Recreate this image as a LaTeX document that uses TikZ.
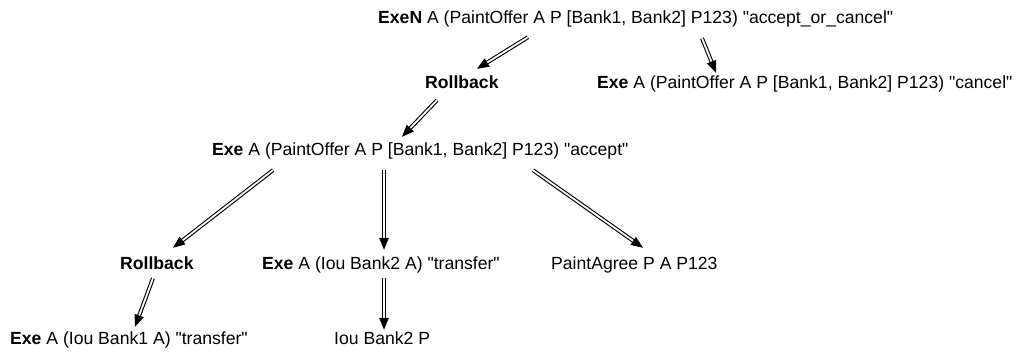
\documentclass[tikz,border=0pt]{standalone}
\usepackage{fontspec}
\setmainfont{Liberation Sans}
\usepackage{tikz}
\usetikzlibrary{arrows.meta}
\newcommand{\kw}[1]{\textbf{#1}}
\newcommand{\qt}[1]{\textquotedbl#1\textquotedbl}

\begin{document}
\begin{tikzpicture}[
  x=1bp, y=1bp,
  font=\fontsize{17.6bp}{21bp}\selectfont,
  line cap=round, line join=round,
  lbl/.style={anchor=base west, inner sep=0pt, text height=13bp, text depth=4bp},
  dbl/.style={double, double distance=1.8bp, line width=1.1bp, line cap=butt,
              -{Triangle[length=12bp, width=9.5bp]}},
]
\useasboundingbox (0,0) rectangle (1016,356);

% ----- rows -----
\node[lbl] (exen)  at (378,332.5) {\kw{ExeN} A (PaintOffer A P [Bank1, Bank2] P123) \qt{accept\_or\_cancel}};
\node[lbl] (rb1)   at (425,267.5) {\kw{Rollback}};
\node[lbl] (cnl)   at (597,267.5) {\kw{Exe} A (PaintOffer A P [Bank1, Bank2] P123) \qt{cancel}};
\node[lbl] (acc)   at (212,201)   {\kw{Exe} A (PaintOffer A P [Bank1, Bank2] P123) \qt{accept}};
\node[lbl] (rb2)   at (120,87)    {\kw{Rollback}};
\node[lbl] (iou2)  at (262,87)    {\kw{Exe} A (Iou Bank2 A) \qt{transfer}};
\node[lbl] (agree) at (551,87)    {PaintAgree P A P123};
\node[lbl] (iou1)  at (10,12)     {\kw{Exe} A (Iou Bank1 A) \qt{transfer}};
\node[lbl] (iou2p) at (334,12)    {Iou Bank2 P};

% ----- edges -----
\draw[dbl] ([shift={(150,-9.5)}]exen.south west) -- ([shift={(52,6.5)}]rb1.north west);
\draw[dbl] ([shift={(324,-10.5)}]exen.south west) -- ([shift={(119,2.5)}]cnl.north west);
\draw[dbl] ([shift={(12,-7.5)}]rb1.south west) -- ([shift={(190,5)}]acc.north west);
\draw[dbl] ([shift={(61,-11)}]acc.south west) -- ([shift={(53,8)}]rb2.north west);
\draw[dbl] ([shift={(172,-11)}]acc.south west) -- ([shift={(122,6)}]iou2.north west);
\draw[dbl] ([shift={(321,-11)}]acc.south west) -- ([shift={(92,8)}]agree.north west);
\draw[dbl] ([shift={(33,-5)}]rb2.south west) -- ([shift={(125,4)}]iou1.north west);
\draw[dbl] ([shift={(122,-5)}]iou2.south west) -- ([shift={(50,1)}]iou2p.north west);
\end{tikzpicture}
\end{document}
